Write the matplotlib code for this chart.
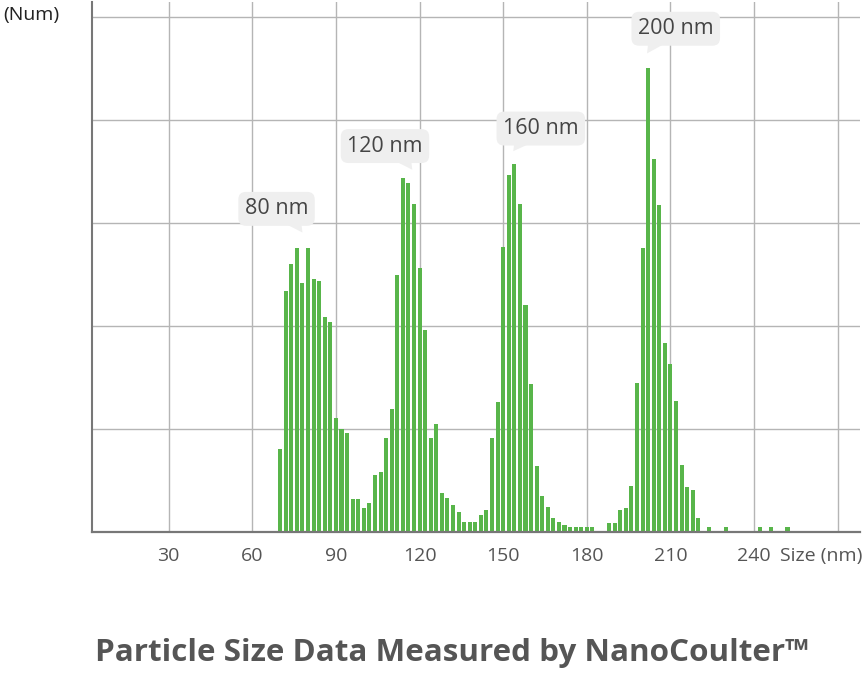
import matplotlib
matplotlib.use("Agg")
from matplotlib import pyplot as plt
from matplotlib.patches import Polygon
import numpy as np

plt.rcParams['font.family'] = ['Open Sans', 'DejaVu Sans']

# particle size bins (nm) and counts, in units of one gridline
sizes = list(range(70, 254, 2))
counts = [0.81, 2.34, 2.60, 2.76, 2.42, 2.76, 2.46, 2.44, 2.09, 2.04,
          1.11, 1.00, 0.96, 0.32, 0.32, 0.23, 0.28, 0.55, 0.58, 0.91,
          1.20, 2.50, 3.44, 3.39, 3.19, 2.57, 1.96, 0.91, 1.05, 0.38,
          0.33, 0.26, 0.19, 0.10, 0.10, 0.10, 0.17, 0.21, 0.91, 1.26,
          2.77, 3.47, 3.58, 3.19, 2.21, 1.44, 0.64, 0.35, 0.24, 0.14,
          0.10, 0.07, 0.045, 0.045, 0.045, 0.045, 0.045, 0, 0, 0.09,
          0.09, 0.21, 0.23, 0.45, 1.45, 2.76, 4.51, 3.62, 3.18, 1.84,
          1.63, 1.27, 0.65, 0.44, 0.41, 0.14, 0, 0.05, 0, 0,
          0.05, 0, 0, 0, 0, 0, 0.05, 0, 0.05, 0,
          0, 0.05]

xticks = [30, 60, 90, 120, 150, 180, 210, 240, 270]
xtick_labels = ['30', '60', '90', '120', '150', '180', '210', '240', '']

peak_labels = ['80 nm', '120 nm', '160 nm', '200 nm']
# label centre, tail tip, which side the tail base lies on
label_x = [68.7, 107.6, 163.5, 211.9]
label_y = [3.14, 3.75, 3.92, 4.89]
tip_x = [78.0, 117.4, 153.6, 201.6]
tip_y = [2.91, 3.52, 3.70, 4.65]
tail_side = [-1, -1, 1, 1]

fig = plt.figure(figsize=(8.64, 6.73), dpi=100)
ax = fig.add_axes([92 / 864, 1 - 532 / 673, 768 / 864, 530 / 673])

ax.bar(sizes, counts, width=1.45, color='#58b54a', zorder=2)

ax.set_xlim(2.5, 278)
ax.set_ylim(0, 5.15)
ax.set_xticks(xticks)
ax.set_xticklabels(xtick_labels)
ax.set_yticks([1, 2, 3, 4, 5])
ax.set_yticklabels([])
ax.tick_params(length=0)
ax.tick_params(axis='x', pad=11, labelsize=14, labelcolor='#555555')
ax.grid(True, color='#b5b5b5', linewidth=1.0)
ax.set_axisbelow(True)

for s in ['top', 'right']:
    ax.spines[s].set_visible(False)
ax.spines['left'].set_color('#777777')
ax.spines['left'].set_linewidth(1.5)
ax.spines['bottom'].set_color('#777777')
ax.spines['bottom'].set_linewidth(1.6)

box_color = '#efefef'
for lab, lx, ly, tx, ty, side in zip(peak_labels, label_x, label_y, tip_x, tip_y, tail_side):
    ax.text(lx, ly, lab, ha='center', va='center', fontsize=15.5, color='#454545',
            zorder=4,
            bbox=dict(boxstyle='round,pad=0.3,rounding_size=0.35', fc=box_color, ec='none'))
    base_y = ly - 0.12
    tail = Polygon([(tx, ty), (tx + side * 0.5, base_y), (tx + side * 8, base_y)],
                   closed=True, fc=box_color, ec='none', zorder=3)
    ax.add_patch(tail)

fig.text(3 / 864, 1 - 15 / 673, '(Num)', ha='left', va='center', fontsize=14, color='#222222')
fig.text(862 / 864, 1 - 556 / 673, 'Size (nm)', ha='right', va='center', fontsize=14, color='#555555')
fig.text(452 / 864, 1 - 653 / 673, 'Particle Size Data Measured by NanoCoulter\u2122',
         ha='center', va='center', fontsize=22.6, fontweight='bold', color='#555555')

fig.savefig('out.png', dpi=100)
